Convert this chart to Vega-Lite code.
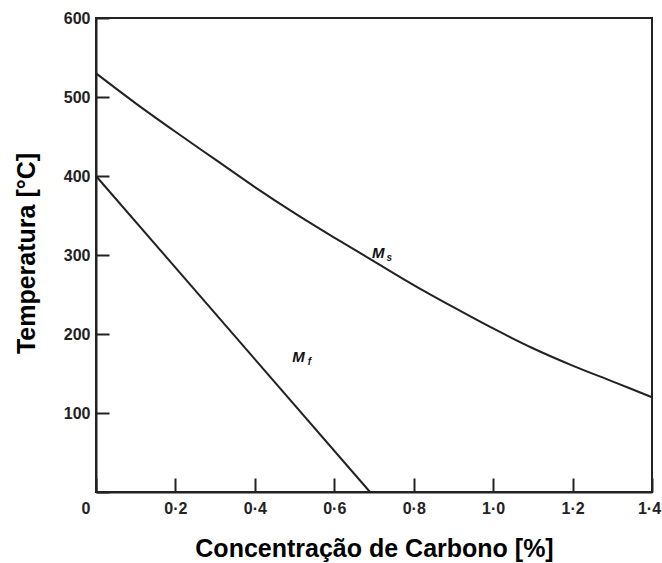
{
  "$schema": "https://vega.github.io/schema/vega-lite/v6.json",
  "width": 556,
  "height": 474,
  "autosize": "none",
  "padding": {"left": 96, "top": 18, "right": 10, "bottom": 71},
  "background": "white",
  "config": {
    "font": "Liberation Sans",
    "view": {"stroke": "#222", "strokeWidth": 2},
    "axis": {
      "domainColor": "#222",
      "domainWidth": 2,
      "tickColor": "#222",
      "tickWidth": 2,
      "grid": false,
      "labelFont": "Liberation Sans",
      "labelFontSize": 16,
      "labelFontWeight": "bold",
      "labelColor": "#222",
      "titleFont": "Liberation Sans",
      "titleFontSize": 25,
      "titleFontWeight": "bold",
      "titleColor": "#000"
    }
  },
  "datasets": {
    "ms": [
      {"c": 0.0, "t": 530},
      {"c": 0.1, "t": 492},
      {"c": 0.2, "t": 456},
      {"c": 0.3, "t": 421},
      {"c": 0.4, "t": 386},
      {"c": 0.5, "t": 353},
      {"c": 0.6, "t": 322},
      {"c": 0.7, "t": 292},
      {"c": 0.8, "t": 262},
      {"c": 0.9, "t": 234},
      {"c": 1.0, "t": 207},
      {"c": 1.1, "t": 182},
      {"c": 1.2, "t": 160},
      {"c": 1.3, "t": 140},
      {"c": 1.4, "t": 120}
    ],
    "mf": [
      {"c": 0.0, "t": 400},
      {"c": 0.69, "t": 0}
    ],
    "labels": [
      {"c": 0.711, "t": 302, "m": "M", "s": "s"},
      {"c": 0.51, "t": 171, "m": "M", "s": "f"}
    ]
  },
  "encoding": {
    "x": {
      "field": "c",
      "type": "quantitative",
      "scale": {"domain": [0, 1.4], "nice": false, "zero": false},
      "axis": {
        "values": [0, 0.2, 0.4, 0.6, 0.8, 1.0, 1.2, 1.4],
        "tickSize": -14,
        "labelPadding": 22,
        "labelBaseline": "top",
        "labelAlign": {"condition": {"test": "datum.value == 0", "value": "right"}, "value": "center"},
        "labelOffset": {"condition": [{"test": "datum.value == 0", "value": -6}, {"test": "datum.value > 1.35", "value": -3}], "value": 0},
        "labelExpr": "datum.value == 0 ? '0' : replace(format(datum.value, '.1f'), '.', '·')",
        "title": "Concentração de Carbono [%]",
        "titleX": 278,
        "titleY": 64,
        "titleAlign": "center",
        "titleBaseline": "alphabetic"
      }
    },
    "y": {
      "field": "t",
      "type": "quantitative",
      "scale": {"domain": [0, 600], "nice": false},
      "axis": {
        "values": [0, 100, 200, 300, 400, 500, 600],
        "tickSize": -13,
        "labelPadding": 19,
        "labelExpr": "datum.value == 0 ? '' : datum.label",
        "title": "Temperatura [°C]",
        "titleX": -62,
        "titleY": 235,
        "titleAngle": -90,
        "titleAlign": "center",
        "titleBaseline": "alphabetic"
      }
    }
  },
  "layer": [
    {
      "data": {"name": "ms"},
      "mark": {"type": "line", "color": "#222", "strokeWidth": 2, "interpolate": "monotone"}
    },
    {
      "data": {"name": "mf"},
      "mark": {"type": "line", "color": "#222", "strokeWidth": 2}
    },
    {
      "data": {"name": "labels"},
      "mark": {"type": "text", "font": "Liberation Sans", "fontSize": 15, "fontWeight": "bold", "fontStyle": "italic", "color": "#111", "align": "center", "baseline": "middle"},
      "encoding": {"text": {"field": "m"}}
    },
    {
      "data": {"name": "labels"},
      "mark": {"type": "text", "font": "Liberation Sans", "fontSize": 10, "fontWeight": "bold", "fontStyle": "italic", "color": "#111", "align": "center", "baseline": "middle", "dx": 11, "dy": 5},
      "encoding": {"text": {"field": "s"}}
    }
  ]
}
